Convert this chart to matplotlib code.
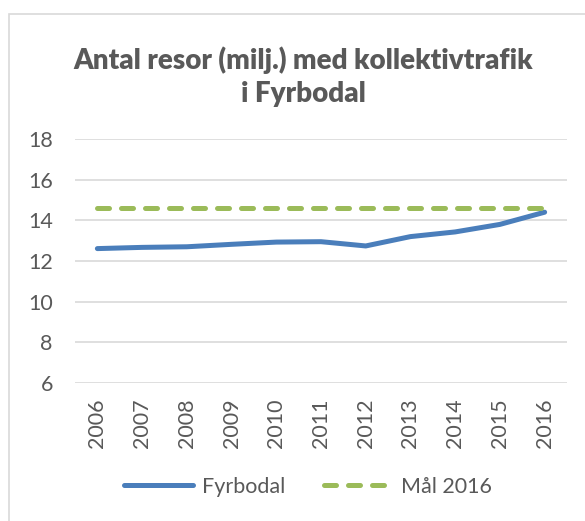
import matplotlib.pyplot as plt
from matplotlib.patches import Rectangle
import numpy as np

years = ["2006", "2007", "2008", "2009", "2010", "2011",
         "2012", "2013", "2014", "2015", "2016"]
fyrbodal = [12.61, 12.67, 12.70, 12.82, 12.93, 12.95,
            12.74, 13.20, 13.43, 13.80, 14.40]
mal_2016 = [14.6] * len(years)
y_ticks = [6, 8, 10, 12, 14, 16, 18]

text_color = "#595959"
blue = "#4A7EBB"
green = "#9BBB59"
grid_color = "#D9D9D9"

plt.rcParams["font.family"] = ["Lato", "DejaVu Sans"]

fig = plt.figure(figsize=(5.85, 5.21), dpi=100)
fig.patch.set_facecolor("white")

# chart border (cut off on the right and bottom like the source)
fig.patches.append(Rectangle((9 / 585, -0.1), 1.2, 1 - 14 / 521 + 0.1,
                             transform=fig.transFigure, fill=False,
                             edgecolor="#D9D9D9", linewidth=1.2))

ax = fig.add_axes([75 / 585, 1 - 383 / 521, 492 / 585, 244 / 521])
x = np.arange(len(years))

ax.plot(x, fyrbodal, color=blue, linewidth=3.6, solid_capstyle="round",
        label="Fyrbodal")
ax.plot(x, mal_2016, color=green, linewidth=3.6, dashes=(2.4, 2.4),
        dash_capstyle="round", label="Mål 2016")

ax.set_xlim(-0.5, len(years) - 0.5)
ax.set_ylim(6, 18)
ax.set_yticks(y_ticks)
ax.set_xticks(x)
ax.set_xticklabels(years, rotation=90)
ax.grid(axis="y", color=grid_color, linewidth=1.2)
ax.set_axisbelow(True)
for side in ["top", "right", "left", "bottom"]:
    ax.spines[side].set_visible(False)
ax.tick_params(axis="both", length=0, labelsize=15.5, labelcolor=text_color)
ax.tick_params(axis="y", pad=16)
ax.tick_params(axis="x", pad=11)

fig.text(0.518, 1 - 77 / 521, "Antal resor (milj.) med kollektivtrafik\ni Fyrbodal",
         ha="center", va="center", fontsize=20, fontweight="heavy",
         color=text_color, linespacing=1.35)

fig.legend(loc="center", bbox_to_anchor=(0.527, 1 - 487 / 521), ncol=2,
           frameon=False, fontsize=15.5, labelcolor=text_color,
           handlelength=3.2, handletextpad=0.4, columnspacing=1.8)

fig.savefig("out.png", dpi=100)
